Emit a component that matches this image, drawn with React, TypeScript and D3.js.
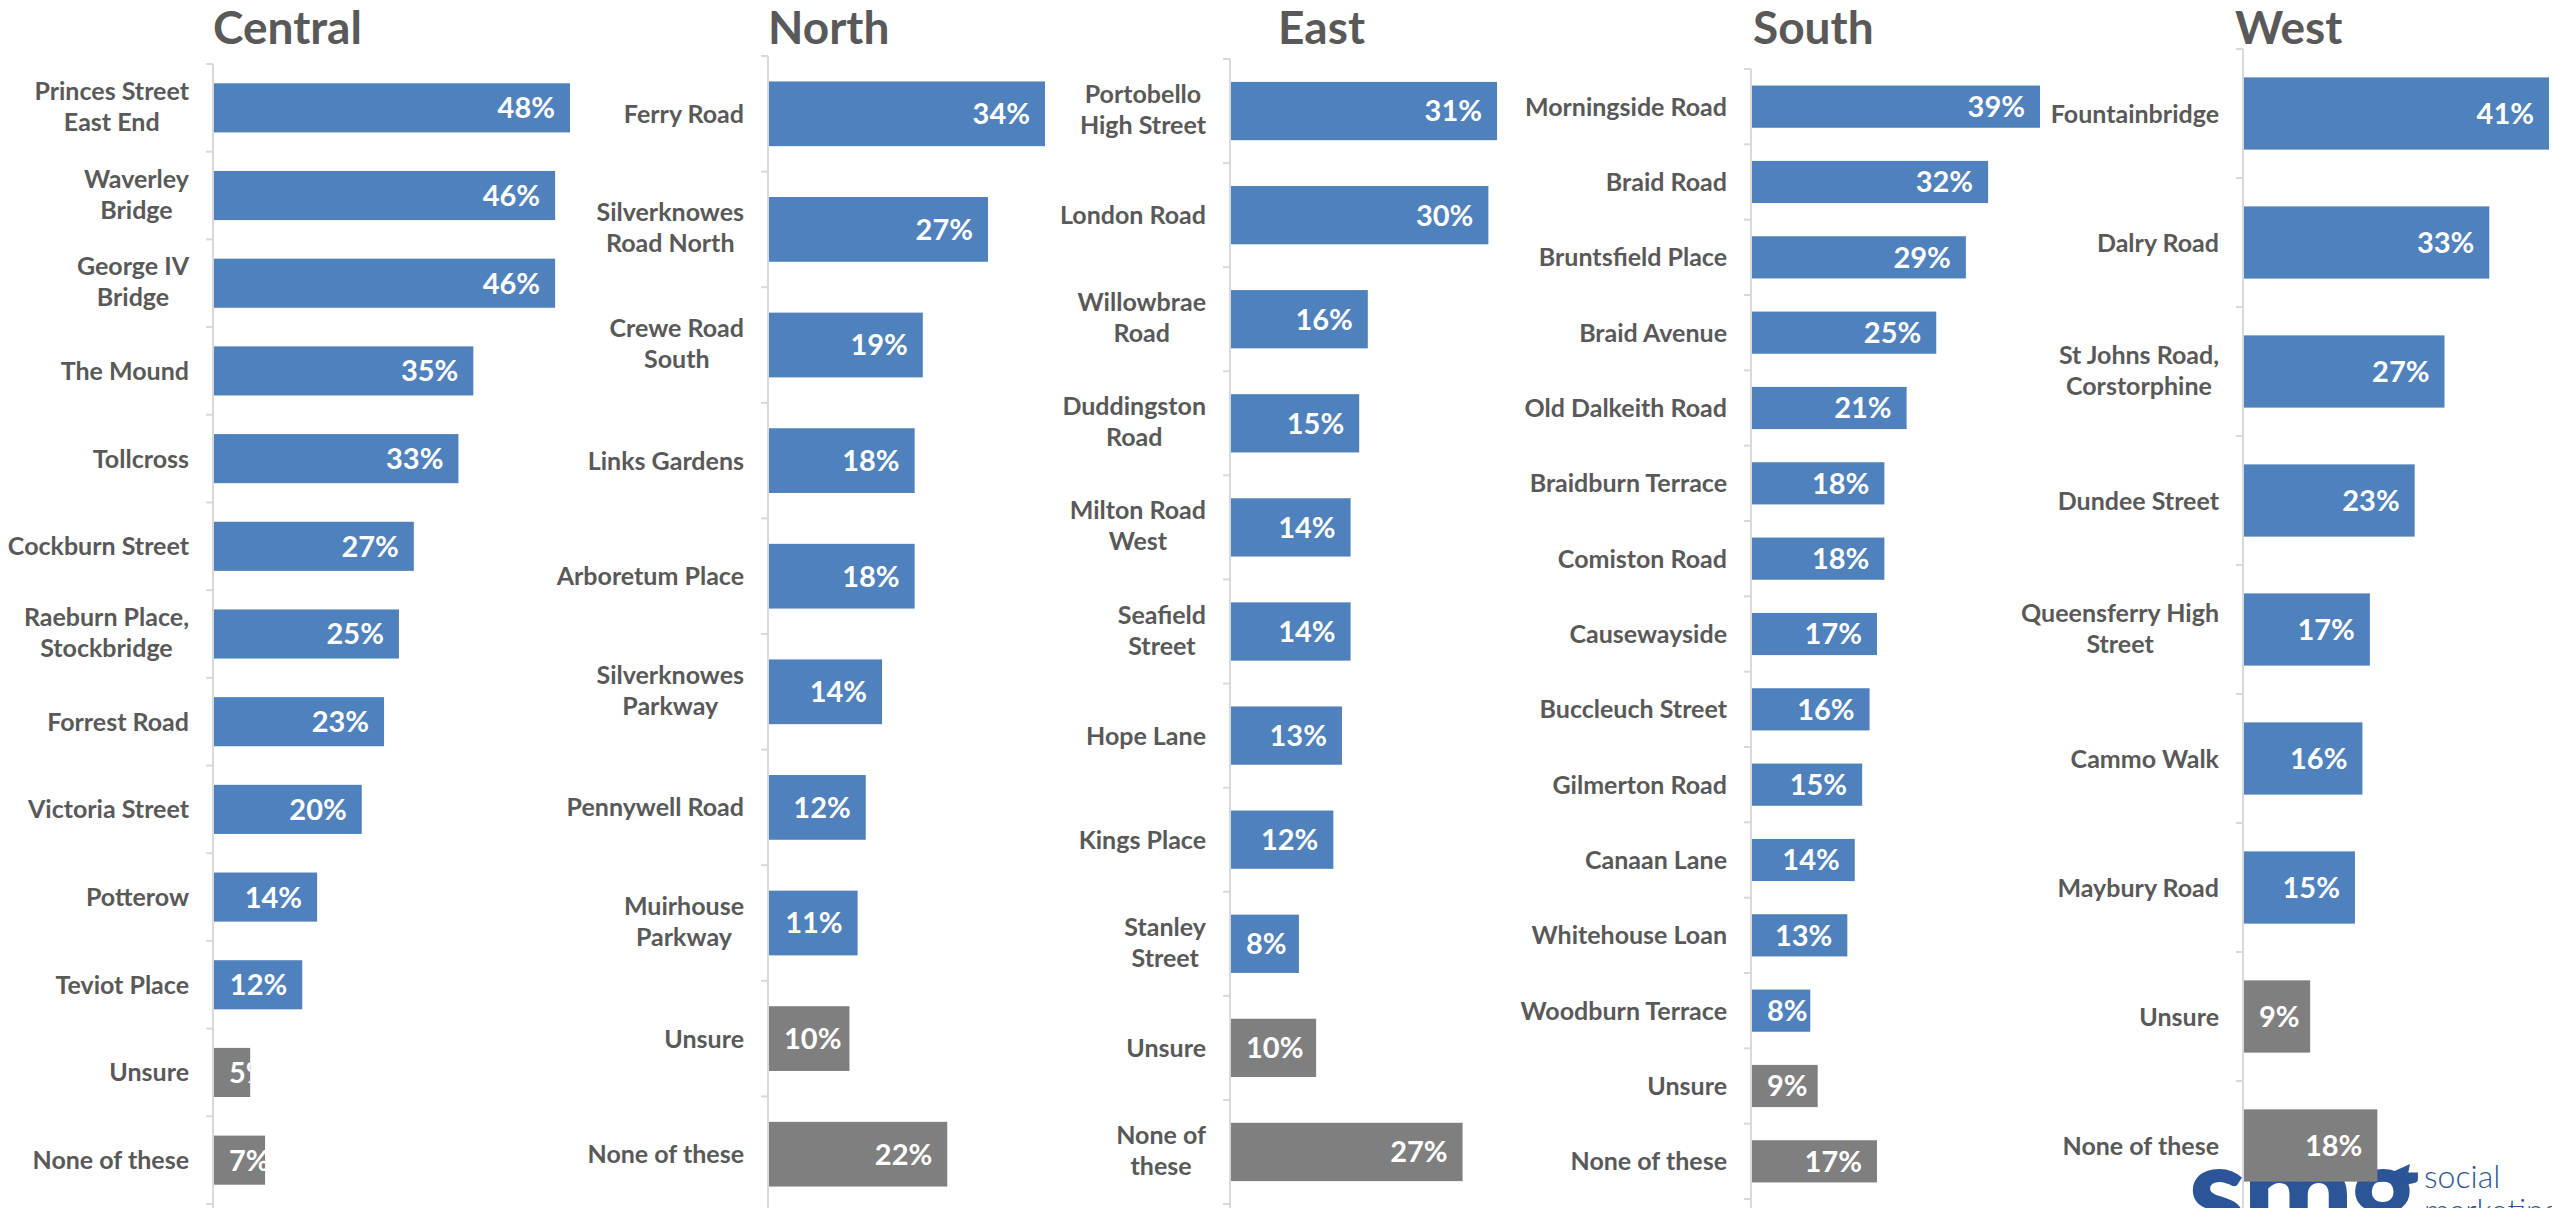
import * as d3 from 'd3';
import { useEffect, useRef } from 'react';

// region titles
const regions = ['Central', 'North', 'East', 'South', 'West'];

// categories per region ("\n" marks where the label wraps)
const centralLabels = [
  'Princes Street\nEast End',
  'Waverley\nBridge',
  'George IV\nBridge',
  'The Mound',
  'Tollcross',
  'Cockburn Street',
  'Raeburn Place,\nStockbridge',
  'Forrest Road',
  'Victoria Street',
  'Potterow',
  'Teviot Place',
  'Unsure',
  'None of these',
];
const centralValues = [48, 46, 46, 35, 33, 27, 25, 23, 20, 14, 12, 5, 7];

const northLabels = [
  'Ferry Road',
  'Silverknowes\nRoad North',
  'Crewe Road\nSouth',
  'Links Gardens',
  'Arboretum Place',
  'Silverknowes\nParkway',
  'Pennywell Road',
  'Muirhouse\nParkway',
  'Unsure',
  'None of these',
];
const northValues = [34, 27, 19, 18, 18, 14, 12, 11, 10, 22];

const eastLabels = [
  'Portobello\nHigh Street',
  'London Road',
  'Willowbrae\nRoad',
  'Duddingston\nRoad',
  'Milton Road\nWest',
  'Seafield\nStreet',
  'Hope Lane',
  'Kings Place',
  'Stanley\nStreet',
  'Unsure',
  'None of\nthese',
];
const eastValues = [31, 30, 16, 15, 14, 14, 13, 12, 8, 10, 27];

const southLabels = [
  'Morningside Road',
  'Braid Road',
  'Bruntsfield Place',
  'Braid Avenue',
  'Old Dalkeith Road',
  'Braidburn Terrace',
  'Comiston Road',
  'Causewayside',
  'Buccleuch Street',
  'Gilmerton Road',
  'Canaan Lane',
  'Whitehouse Loan',
  'Woodburn Terrace',
  'Unsure',
  'None of these',
];
const southValues = [39, 32, 29, 25, 21, 18, 18, 17, 16, 15, 14, 13, 8, 9, 17];

const westLabels = [
  'Fountainbridge',
  'Dalry Road',
  'St Johns Road,\nCorstorphine',
  'Dundee Street',
  'Queensferry High\nStreet',
  'Cammo Walk',
  'Maybury Road',
  'Unsure',
  'None of these',
];
const westValues = [41, 33, 27, 23, 17, 16, 15, 9, 18];

// answers drawn in grey
const otherAnswers = ['Unsure', 'None of these', 'None of\nthese'];

const W = 2552;
const H = 1208;
const FONT = "Lato, 'Open Sans', sans-serif";
const TEXT = '#595959';
const BLUE = '#4F81BD';
const GREY = '#7F7F7F';
const AXIS = '#D9D9D9';

// where each small chart sits on the page
const layout = [
  { titleX: 213, axisX: 213, right: 570, top: 64, bottom: 1204 },
  { titleX: 768, axisX: 768, right: 1045, top: 56, bottom: 1212 },
  { titleX: 1278, axisX: 1230, right: 1497, top: 59, bottom: 1204 },
  { titleX: 1753, axisX: 1751, right: 2040, top: 69, bottom: 1199 },
  { titleX: 2235, axisX: 2243, right: 2549, top: 49, bottom: 1210 },
];

const App = () => {
  const ref = useRef<SVGSVGElement>(null);

  useEffect(() => {
    const svg = d3.select(ref.current).attr('width', W).attr('height', H).attr('viewBox', [0, 0, W, H]);
    svg.selectAll('*').remove();
    const defs = svg.append('defs');

    // logo, sitting under the charts
    const logo = svg.append('g').attr('font-family', FONT).attr('fill', '#2B5597');
    logo
      .append('text')
      .attr('x', 2188)
      .attr('y', 1238)
      .attr('font-size', 132)
      .attr('font-weight', 900)
      .attr('letter-spacing', -4)
      .text('smg');
    logo.append('path').attr('d', 'M2378,1178 C2392,1172 2402,1168 2410,1164 L2406,1184 C2398,1182 2390,1181 2380,1182 Z');
    logo.append('text').attr('x', 2424).attr('y', 1188).attr('font-size', 32).attr('font-weight', 300).text('social');
    logo.append('text').attr('x', 2424).attr('y', 1222).attr('font-size', 32).attr('font-weight', 300).text('marketing');

    const data = [
      { labels: centralLabels, values: centralValues },
      { labels: northLabels, values: northValues },
      { labels: eastLabels, values: eastValues },
      { labels: southLabels, values: southValues },
      { labels: westLabels, values: westValues },
    ];

    data.forEach((d, i) => {
      const L = layout[i];
      const x = d3.scaleLinear([0, d3.max(d.values) ?? 0], [L.axisX, L.right]);
      const y = d3.scaleBand(d.labels, [L.top, L.bottom]).paddingInner(0.44).paddingOuter(0.22);
      const step = y.step();
      const g = svg.append('g').attr('font-family', FONT);

      g.append('text')
        .attr('x', L.titleX)
        .attr('y', 44)
        .attr('font-size', 46)
        .attr('font-weight', 700)
        .attr('fill', TEXT)
        .text(regions[i]);

      // bars
      const rows = g
        .selectAll('g.row')
        .data(d.labels.map((label, k) => ({ label, value: d.values[k], k })))
        .enter()
        .append('g');

      rows
        .append('rect')
        .attr('x', L.axisX)
        .attr('y', (r) => y(r.label) ?? 0)
        .attr('width', (r) => x(r.value) - L.axisX)
        .attr('height', y.bandwidth())
        .attr('fill', (r) => (otherAnswers.includes(r.label) ? GREY : BLUE));

      // value labels at the inside end, pushed right of the axis and clipped when the bar is short
      rows.each(function (r) {
        const id = `clip-${i}-${r.k}`;
        defs
          .append('clipPath')
          .attr('id', id)
          .append('rect')
          .attr('x', L.axisX)
          .attr('y', y(r.label) ?? 0)
          .attr('width', x(r.value) - L.axisX)
          .attr('height', y.bandwidth());
        const t = d3
          .select(this)
          .append('text')
          .attr('clip-path', `url(#${id})`)
          .attr('y', (y(r.label) ?? 0) + y.bandwidth() / 2)
          .attr('dy', '0.36em')
          .attr('font-size', 29)
          .attr('font-weight', 700)
          .attr('fill', '#fff')
          .text(`${r.value}%`);
        const w = (t.node() as SVGTextElement).getComputedTextLength();
        t.attr('x', Math.max(x(r.value) - 15 - w, L.axisX + 16));
      });

      // axis line and tick marks between categories
      g.append('line')
        .attr('x1', L.axisX)
        .attr('x2', L.axisX)
        .attr('y1', L.top)
        .attr('y2', H)
        .attr('stroke', AXIS)
        .attr('stroke-width', 2);
      g.selectAll('line.tick')
        .data(d3.range(d.labels.length + 1))
        .enter()
        .append('line')
        .attr('x1', L.axisX - 7)
        .attr('x2', L.axisX)
        .attr('y1', (k) => L.top + k * step)
        .attr('y2', (k) => L.top + k * step)
        .attr('stroke', AXIS)
        .attr('stroke-width', 2);

      // category labels, lines centred on each other, block right-aligned
      d.labels.forEach((label) => {
        const lines = label.split('\n');
        const cy = (y(label) ?? 0) + y.bandwidth() / 2 - (lines.length > 1 ? 1.5 : 0);
        const block = g.append('g').attr('font-size', 25).attr('font-weight', 700).attr('fill', TEXT);
        const texts = lines.map((line, j) =>
          block
            .append('text')
            .attr('y', cy + (j - (lines.length - 1) / 2) * 31)
            .attr('dy', '0.36em')
            .attr('text-anchor', 'middle')
            .text(line),
        );
        const maxW = d3.max(texts, (t) => (t.node() as SVGTextElement).getComputedTextLength()) ?? 0;
        texts.forEach((t) => t.attr('x', L.axisX - 24 - maxW / 2));
      });
    });
  }, []);

  return (
    <div>
      <svg ref={ref} style={{ position: 'absolute', left: 0, top: 0, display: 'block', background: '#fff' }} />
    </div>
  );
};

export default App;
